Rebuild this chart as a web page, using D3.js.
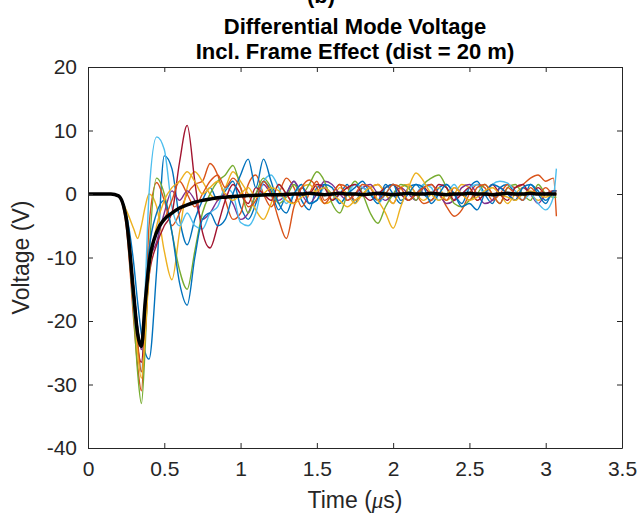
<!DOCTYPE html>
<html>
<head>
<meta charset="utf-8">
<script src="https://cdn.jsdelivr.net/npm/d3@7"></script>
<style>
  body { margin: 0; background: #fff; }
  svg { display: block; }
  .axis text { font-family: "Liberation Sans", Arial, sans-serif; font-size: 21px; fill: #262626; }
  .axis path, .axis line { stroke: #262626; }
  .title { font-family: "Liberation Sans", Arial, sans-serif; font-size: 22px; font-weight: bold; fill: #000; }
  .label { font-family: "Liberation Sans", Arial, sans-serif; font-size: 23px; fill: #262626; }
</style>
</head>
<body>
<div id="chart"></div>
<script>

// time grid (microseconds), shared by every trace
var time_us = [0, 0.1, 0.15, 0.2, 0.25, 0.3, 0.325, 0.35, 0.375, 0.4,
  0.45, 0.5, 0.55, 0.6, 0.65, 0.7, 0.75, 0.8, 0.85, 0.9,
  0.95, 1.0, 1.05, 1.1, 1.15, 1.2, 1.25, 1.3, 1.35, 1.4,
  1.45, 1.5, 1.55, 1.6, 1.65, 1.7, 1.75, 1.8, 1.85, 1.9,
  1.95, 2.0, 2.05, 2.1, 2.15, 2.2, 2.25, 2.3, 2.35, 2.4,
  2.45, 2.5, 2.55, 2.6, 2.65, 2.7, 2.75, 2.8, 2.85, 2.9,
  2.95, 3.0, 3.05, 3.07];

// individual runs (V), matlab colour order
var run_1 = [0, 0, 0, -0.3, -3, -11, -17, -22, -25, -26,
  -12, 6, 4, -4, -8, -4, -1, 1, -1, 0.5,
  2, -2, -4, -1.5, 2, 0.5, -2.5, 0, 2, -1,
  -2.5, 1, 1.5, -1, 0, 1.5, -1.5, 1, 0, -1,
  1.5, 0, -1.5, 1, 1.5, 0, -1, 1, 1.5, 0,
  -1.5, 1, 2, 0, -1.5, 1, 1.5, 0, -1, 1.5,
  0.5, -1, 0, 0];
var run_2 = [0, 0, 0, -0.4, -5, -20, -27, -31, -20, -5,
  1.8, -1, -5, -3, 0, 1.5, 2, 4.8, 3, -1,
  -4, -3, 1.5, 3, 0, -2, 0, 2.5, 1, -2,
  0, 2, -1, 0, 1.5, 1, -1, 0, 1, 1.5,
  0, -1.5, 1, 1.5, 0, -1.5, -1, 0, -2, -3.5,
  -2.5, 0, 1.5, 1, -1, 0, 1.5, 1, 1.5, 2.5,
  3, 2, 2.5, -3.5];
var run_3 = [0, 0, 0, -0.4, -2.5, -5.5, -7, -5, -2, 0,
  -2, -9, -13.5, -6, 1, 3.5, 2, 0, -1, 1,
  3.5, 2, 0, -2.5, -4, -1.5, 1.5, 0, -1.5, 1,
  1.5, 0, -1.5, -1, 1, 0, -1.5, 0, 1, 1.5,
  0, -1.5, 1, 1.5, 0, -1, 0, 1, -1, 0,
  1.5, 1, -1, 0, 1, 0, -1.5, 0, 1, 0,
  -1, 0, 0.5, 0.5];
var run_4 = [0, 0, 0, -0.3, -3.5, -15, -21, -24.5, -18, -11,
  -7.5, -3, 0.5, -1, 0.5, -1, -4, -3, -1, 0,
  -1.5, -4, -3, 0, 1.5, 0, -1, 0, 2, 0,
  -1.5, 0, 2, 1.5, 0, -1, 0, 1, 1.5, 0,
  -1, 0, 1, 0, -1, 1, 1.5, 0, -1.5, -1,
  1, 1.5, 0, -1.5, -1, 1, 0, -1, 1, 0,
  -1.5, 0, 0.5, 0.5];
var run_5 = [0, 0, 0, -0.3, -4, -19, -28, -33, -24, -10,
  2.5, 0, -6, -12, -15, -9, -3, 0, 2, 3,
  4.5, 1, -3, 0, 2.5, 1, -1.5, -0.5, 1.5, 0,
  1.5, 3.5, 2, -1.5, -3, 0, 2, 0, -3, -4.6,
  -2, 0, 1.5, 1, -1, 1.5, 2.5, 3, 1, -1.5,
  -2, -1, 0, 1.5, 0, -1.5, 1, 1.5, 0, -1,
  1.5, 0, -0.5, -0.5];
var run_6 = [0, 0, 0, -0.3, -4, -18, -24, -28, -15, 0,
  9, 7, -2, -5, -3, -5, -5.5, -3, -2, 1,
  0, -4.5, -5, -3, 2, 3, 1, -1.5, 0, 1.5,
  -1.5, -1, 1, 0, -1.5, 0, 1.5, 1, 0, -1.5,
  0, 1.5, 0, -1, 0, 1.5, 1, -1, 0, 1.5,
  0, 1, 1.5, 0, 1.5, 2, 1.7, 0.5, -1, 0,
  -1.5, -2.5, -0.5, 4];
var run_7 = [0, 0, 0, -0.3, -4, -17, -24, -26.5, -20, -13,
  -8, -5, -3, 5, 10.8, 2, -6, -8.5, -5, -1,
  1.5, 0, -1.5, 1, 0, -1, 1.5, 0, -1.5, 1,
  0, 1.5, 1, -1, 0, 1, 1.5, 0, -1, 0,
  1, 1.5, 0, -1, 0, 1, 0, 1.5, 1, -1,
  0, 1, -1, 0, 1.5, 0, -1, 1, 1.5, 0,
  1, 0, 0.5, 0.5];
var run_8 = [0, 0, 0, -0.3, -3.5, -15, -21, -24, -17, -9,
  -3, -1, -6, -14, -17.5, -10, -4, -3, -5, -4,
  0, 3, 5.5, 1, 5.5, 2, -1.5, -3, 0, 1.5,
  -1.5, -1, 1.5, 1, -1.5, 0, 1, 2, 0, -1.5,
  1, 1.5, -1, 0, 1.5, 1, -1.5, 0, 1.5, 0,
  -2, -1.5, -2.5, 0, 1.5, 1, 0, -1, 1, 1.5,
  0, -1.5, 0.5, 0.5];
var run_9 = [0, 0, 0, -0.3, -3.5, -15, -23, -28, -22, -12,
  -6, -4, -1, 2, 0, -2, 0, 2, 3, 1,
  2.5, 1, -2, -1, 2, 0, -4, -7, -2, 1,
  2.2, 1, -1.5, 0, 1.5, -1, 0, 1.5, 1, -1,
  0, 1.5, 1, -1, 0, 1, 1.5, 0, -1, 1,
  0, -1, 1, 1.5, 0, -1.5, 1, 0, -1, 1,
  0, 1, 0, 0];
var run_10 = [0, 0, 0, -0.3, -4, -17, -25, -29, -22, -13,
  -5, -1, 1, 2, 3.5, 2, 0, 1, 2, 0,
  -1, 0, 1, -0.5, 0, 1, 0.5, -1, -1.5, -0.5,
  0, 0.5, 1, 0, -1, -2, -1, 0, 1, -1,
  -3, -5.4, -2, 1, 3.3, 2, 0, -1, 0, 1,
  0, -1, -0.5, 0.5, 1, 0, -0.5, -1, 0, 0.5,
  0, -0.5, 0, 0];

// average over all runs (V)
var run_mean = [0, 0, 0, -0.3, -3.8, -16, -22, -24, -17, -11,
  -6, -4, -3, -2.2, -1.7, -1.3, -1, -0.8, -0.6, -0.5,
  -0.4, -0.3, -0.25, -0.2, -0.15, -0.1, -0.1, -0.05, 0, 0,
  0.1, 0, -0.1, 0, 0.1, 0, 0, -0.1, 0, 0.1,
  0, -0.1, 0, 0.1, 0, 0, 0.1, 0, -0.1, 0,
  0, 0.1, 0, 0, -0.1, 0, 0.1, 0, 0, 0.1,
  0, 0, 0, 0];

var runs = [run_1, run_2, run_3, run_4, run_5, run_6, run_7, run_8, run_9, run_10];
var run_colours = ["#0072BD", "#D95319", "#EDB120", "#7E2F8E", "#77AC30",
  "#4DBEEE", "#A2142F", "#0072BD", "#D95319", "#EDB120"];

var x_ticks = [0, 0.5, 1, 1.5, 2, 2.5, 3, 3.5];
var y_ticks = [-40, -30, -20, -10, 0, 10, 20];

var margin = {top: 67, right: 18, bottom: 70, left: 88};
var full_width = 640, full_height = 518;
var width = full_width - margin.left - margin.right;
var height = full_height - margin.top - margin.bottom;

var svg = d3.select("#chart").append("svg")
  .attr("width", full_width)
  .attr("height", full_height);

var chart_area = svg.append("g")
  .attr("transform", "translate(" + margin.left + "," + margin.top + ")");

var x = d3.scaleLinear().domain([0, 3.5]).range([0, width]);
var y = d3.scaleLinear().domain([-40, 20]).range([height, 0]);

chart_area.append("clipPath").attr("id", "plot_clip")
  .append("rect").attr("width", width).attr("height", height);

var line = d3.line()
  .x(function(d, i) { return x(time_us[i]); })
  .y(function(d) { return y(d); })
  .curve(d3.curveMonotoneX);

var traces = chart_area.append("g").attr("clip-path", "url(#plot_clip)");

traces.selectAll(".run")
  .data(runs)
  .enter()
  .append("path")
  .attr("class", "run")
  .attr("fill", "none")
  .attr("stroke", function(d, i) { return run_colours[i]; })
  .attr("stroke-width", 1.4)
  .attr("d", line);

traces.append("path")
  .datum(run_mean)
  .attr("fill", "none")
  .attr("stroke", "#000")
  .attr("stroke-width", 3.5)
  .attr("d", line);

//Axes, matlab box with inward ticks
var plain = function(d) { return String(d); };

chart_area.append("g").attr("class", "axis")
  .attr("transform", "translate(0," + height + ")")
  .call(d3.axisBottom(x).tickValues(x_ticks).tickFormat(plain).tickSizeInner(-5).tickSizeOuter(0).tickPadding(13));

chart_area.append("g").attr("class", "axis")
  .call(d3.axisTop(x).tickValues(x_ticks).tickSizeInner(-5).tickSizeOuter(0).tickFormat(""));

chart_area.append("g").attr("class", "axis")
  .call(d3.axisLeft(y).tickValues(y_ticks).tickFormat(plain).tickSizeInner(-5).tickSizeOuter(0).tickPadding(11));

chart_area.append("g").attr("class", "axis")
  .attr("transform", "translate(" + width + ",0)")
  .call(d3.axisRight(y).tickValues(y_ticks).tickSizeInner(-5).tickSizeOuter(0).tickFormat(""));

// titles and labels
svg.append("text").attr("class", "title")
  .attr("x", 321).attr("y", 3)
  .style("text-anchor", "middle")
  .text("(b)");

svg.append("text").attr("class", "title")
  .attr("x", margin.left + width / 2).attr("y", 34)
  .style("text-anchor", "middle")
  .text("Differential Mode Voltage");

svg.append("text").attr("class", "title")
  .attr("x", margin.left + width / 2).attr("y", 59)
  .style("text-anchor", "middle")
  .text("Incl. Frame Effect (dist = 20 m)");

var x_label = svg.append("text").attr("class", "label")
  .attr("x", margin.left + width / 2).attr("y", 508)
  .style("text-anchor", "middle");
x_label.append("tspan").text("Time (");
x_label.append("tspan").style("font-family", "'Liberation Serif', serif").style("font-style", "italic").text("\u03bc");
x_label.append("tspan").text("s)");

svg.append("text").attr("class", "label")
  .attr("transform", "translate(29," + (margin.top + height / 2) + ") rotate(-90)")
  .style("text-anchor", "middle")
  .text("Voltage (V)");

</script>
</body>
</html>
